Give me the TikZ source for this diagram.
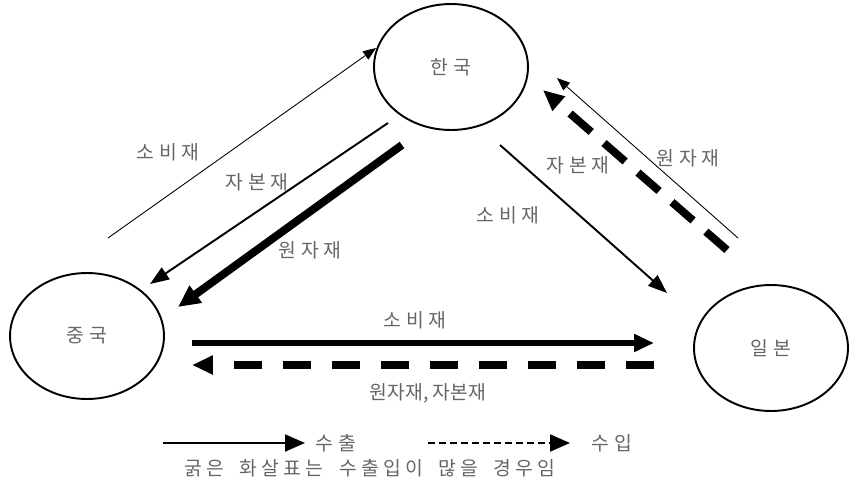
\documentclass[tikz,border=0pt]{standalone}
\usepackage{fontspec}
\setmainfont{Noto Sans CJK KR}
\newfontfamily\krwide{Noto Sans CJK KR}[LetterSpace=26]
\newfontfamily\krcap{Noto Sans CJK KR}[LetterSpace=22, WordSpace=1.8]
\usetikzlibrary{shapes.geometric,positioning,arrows.meta}

\begin{document}
\begin{tikzpicture}[
    x=0.02cm, y=-0.02cm,
    country/.style={ellipse, draw, line width=1.1pt, minimum width=3.08cm, minimum height=2.52cm, text=black!60, font=\krwide\fontsize{11}{13}\selectfont},
    goods/.style={inner sep=0pt, text=black!60, font=\krwide\fontsize{11}{13}\selectfont},
    hairArrow/.style={-{Triangle[length=0.26cm, width=0.2cm]}, line width=0.5pt},
    thinArrow/.style={-{Triangle[length=0.38cm, width=0.28cm]}, line width=1.1pt},
    wideArrow/.style={-{Triangle[length=0.4cm, width=0.34cm]}, line width=3.4pt},
    thickArrow/.style={-{Triangle[length=0.44cm, width=0.4cm]}, line width=4.5pt},
    importArrow/.style={-{Triangle[length=0.42cm, width=0.36cm]}, line width=4pt, dash pattern=on 0.57cm off 0.41cm},
    legendArrow/.style={-{Triangle[length=0.4cm, width=0.34cm]}, line width=1.1pt}]

  \useasboundingbox (0,0) rectangle (849,487);

  % Countries
  \node[country] (kor) at (451,67) {한국};
  \node[country] (chn) at (87,336) {중국};
  \node[country] (jpn) at (771,348) {일본};

  % Arrow ends
  \coordinate (chnKorA) at (108,238);  \coordinate (chnKorB) at (376,48);
  \coordinate (korChnA) at (388,123);  \coordinate (korChnB) at (150,284);
  \coordinate (korChnC) at (402,145);  \coordinate (korChnD) at (178,307);
  \coordinate (korJpnA) at (500,145);  \coordinate (korJpnB) at (667,293);
  \coordinate (jpnKorA) at (727,250);  \coordinate (jpnKorB) at (543,90);
  \coordinate (jpnKorC) at (738,238);  \coordinate (jpnKorD) at (557,78);
  \coordinate (chnJpnA) at (192,343);  \coordinate (chnJpnB) at (654,343);
  \coordinate (jpnChnA) at (654,365);  \coordinate (jpnChnB) at (192,365);

  % Arrows
  \draw[hairArrow] (chnKorA) -- (chnKorB);
  \draw[thinArrow] (korChnA) -- (korChnB);
  \draw[thickArrow] (korChnC) -- (korChnD);
  \draw[thinArrow] (korJpnA) -- (korJpnB);
  \draw[importArrow, line width=4.5pt, dash pattern=on 0.56cm off 0.34cm] (jpnKorA) -- (jpnKorB);
  \draw[hairArrow] (jpnKorC) -- (jpnKorD);
  \draw[wideArrow] (chnJpnA) -- (chnJpnB);
  \draw[importArrow] (jpnChnA) -- (jpnChnB);

  % Goods
  \node[goods] (lblConsA) at (168,152) {소비재};
  \node[goods] (lblCapA) at (257,182) {자본재};
  \node[goods] (lblRawA) at (310,250) {원자재};
  \node[goods] (lblCapB) at (578,165) {자본재};
  \node[goods] (lblConsB) at (508,215) {소비재};
  \node[goods] (lblRawB) at (688,158) {원자재};
  \node[goods] (lblConsC) at (415,320) {소비재};
  \node[goods, font=\fontsize{11}{13}\selectfont] (lblRawCap) at (428,393) {원자재, 자본재};

  % Legend
  \coordinate (expA) at (163,443);  \coordinate (expB) at (305,443);
  \coordinate (impA) at (428,443);  \coordinate (impB) at (570,443);
  \draw[legendArrow] (expA) -- (expB);
  \draw[legendArrow, dash pattern=on 0.14cm off 0.08cm] (impA) -- (impB);
  \node[goods] (lblExport) at (336,443) {수출};
  \node[goods] (lblImport) at (612,443) {수입};
  \node[goods, font=\krcap\fontsize{11}{13}\selectfont] (lblNote) at (370,468) {굵은 화살표는 수출입이 많을 경우임};

\end{tikzpicture}
\end{document}
